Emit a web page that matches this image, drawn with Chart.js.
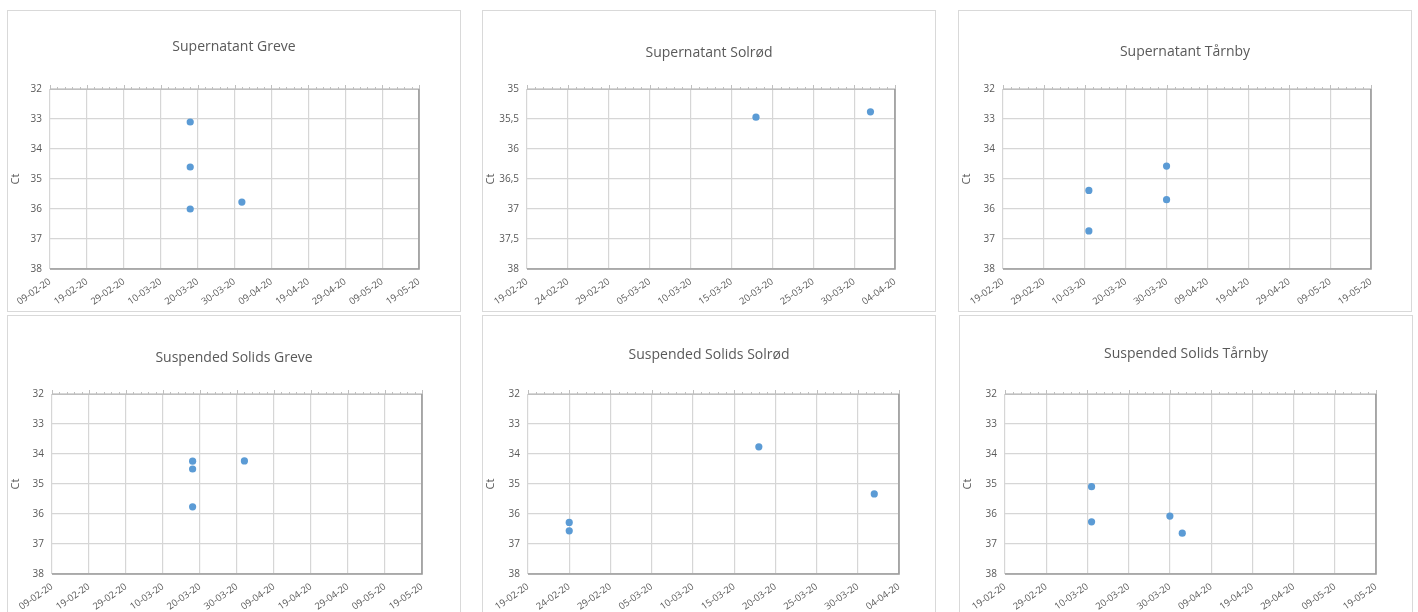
<!doctype html>
<html>
<head>
<meta charset="utf-8" />
<title>Ct – Supernatant / Suspended Solids</title>
<style>
  html, body { margin: 0; padding: 0; background: #fff; overflow: hidden; }
  body { width: 1418px; height: 612px; position: relative; font-family: 'Open Sans', sans-serif; }
  .panel { position: absolute; width: 452px; height: 300px; border: 1px solid #d9d9d9; background: #fff; }
  .panel canvas { display: block; }
</style>
<script src="https://cdn.jsdelivr.net/npm/chart.js"></script>
</head>
<body>
<div class="panel" style="left:7px;top:10px"><canvas id="c1" width="452" height="300"></canvas></div>
<div class="panel" style="left:482px;top:10px"><canvas id="c2" width="452" height="300"></canvas></div>
<div class="panel" style="left:958px;top:10px"><canvas id="c3" width="452" height="300"></canvas></div>
<div class="panel" style="left:7px;top:315px"><canvas id="c4" width="452" height="300"></canvas></div>
<div class="panel" style="left:482px;top:315px"><canvas id="c5" width="452" height="300"></canvas></div>
<div class="panel" style="left:959px;top:315px"><canvas id="c6" width="452" height="300"></canvas></div>
<script>
// x tick labels (dd-mm-yy)
const greveTicks = ['09-02-20', '19-02-20', '29-02-20', '10-03-20', '20-03-20', '30-03-20', '09-04-20', '19-04-20', '29-04-20', '09-05-20', '19-05-20'];
const solrodTicks = ['19-02-20', '24-02-20', '29-02-20', '05-03-20', '10-03-20', '15-03-20', '20-03-20', '25-03-20', '30-03-20', '04-04-20'];
const tarnbyTicks = ['19-02-20', '29-02-20', '10-03-20', '20-03-20', '30-03-20', '09-04-20', '19-04-20', '29-04-20', '09-05-20', '19-05-20'];

// y tick values (Ct, reversed axis)
const ctTicks = [32, 33, 34, 35, 36, 37, 38];
const ctTicksFine = [35, 35.5, 36, 36.5, 37, 37.5, 38];

// series
const supGreveDates = ['18-03-20', '18-03-20', '18-03-20', '01-04-20'];
const supGreveCt = [33.1, 34.6, 36.0, 35.77];
const supSolrodDates = ['18-03-20', '01-04-20'];
const supSolrodCt = [35.47, 35.38];
const supTarnbyDates = ['11-03-20', '11-03-20', '30-03-20', '30-03-20'];
const supTarnbyCt = [35.38, 36.73, 34.57, 35.69];
const ssGreveDates = ['18-03-20', '18-03-20', '18-03-20', '01-04-20'];
const ssGreveCt = [34.24, 34.5, 35.76, 34.23];
const ssSolrodDates = ['24-02-20', '24-02-20', '18-03-20', '01-04-20'];
const ssSolrodCt = [36.28, 36.56, 33.76, 35.33];
const ssTarnbyDates = ['11-03-20', '11-03-20', '30-03-20', '02-04-20'];
const ssTarnbyCt = [35.09, 36.26, 36.07, 36.64];

const panels = [
  { id: 'c1', title: 'Supernatant Greve', xTicks: greveTicks, yTicks: ctTicks, dates: supGreveDates, ct: supGreveCt, titleY: 36, plotL: 42, plotR: 411 },
  { id: 'c2', title: 'Supernatant Solrød', xTicks: solrodTicks, yTicks: ctTicksFine, dates: supSolrodDates, ct: supSolrodCt, titleY: 42, plotL: 44, plotR: 412 },
  { id: 'c3', title: 'Supernatant Tårnby', xTicks: tarnbyTicks, yTicks: ctTicks, dates: supTarnbyDates, ct: supTarnbyCt, titleY: 41, plotL: 44, plotR: 412 },
  { id: 'c4', title: 'Suspended Solids Greve', xTicks: greveTicks, yTicks: ctTicks, dates: ssGreveDates, ct: ssGreveCt, titleY: 42, plotL: 44, plotR: 414 },
  { id: 'c5', title: 'Suspended Solids Solrød', xTicks: solrodTicks, yTicks: ctTicks, dates: ssSolrodDates, ct: ssSolrodCt, titleY: 39, plotL: 45, plotR: 416 },
  { id: 'c6', title: 'Suspended Solids Tårnby', xTicks: tarnbyTicks, yTicks: ctTicks, dates: ssTarnbyDates, ct: ssTarnbyCt, titleY: 38, plotL: 45, plotR: 416 },
];

const PLOT_TOP = 78;
const PLOT_BOTTOM = 258;
const W = 452, H = 300;
const TEXT = '#595959';
const GRID = '#d6d6d6';

function toDay(s) {
  const [d, m, y] = s.split('-').map(Number);
  return Date.UTC(2000 + y, m - 1, d) / 86400000;
}

// Excel-like frame: top axis with minor ticks, darker right/bottom edge
const excelFrame = {
  id: 'excelFrame',
  beforeDatasetsDraw(chart) {
    const { ctx, chartArea: a, scales: { x } } = chart;
    const major = x.ticks.map(t => t.value);
    ctx.save();
    ctx.strokeStyle = '#bfbfbf';
    ctx.lineWidth = 1;
    ctx.beginPath();
    ctx.moveTo(a.left, a.top + 0.5);
    ctx.lineTo(a.right, a.top + 0.5);
    for (let i = 0; i < major.length; i++) {
      const px = Math.round(x.getPixelForValue(major[i])) + 0.5;
      ctx.moveTo(px, a.top); ctx.lineTo(px, a.top - 4);
      if (i < major.length - 1) {
        const step = (major[i + 1] - major[i]) / 5;
        for (let k = 1; k < 5; k++) {
          const mx = Math.round(x.getPixelForValue(major[i] + k * step)) + 0.5;
          ctx.moveTo(mx, a.top); ctx.lineTo(mx, a.top - 2);
        }
      }
    }
    ctx.stroke();
    ctx.strokeStyle = '#9a9a9a';
    ctx.lineWidth = 1.6;
    ctx.beginPath();
    ctx.moveTo(a.right, a.top);
    ctx.lineTo(a.right, a.bottom);
    ctx.lineTo(a.left, a.bottom);
    ctx.stroke();
    ctx.restore();
  }
};

for (const p of panels) {
  const xDays = p.xTicks.map(toDay);
  const points = p.dates.map((d, i) => ({ x: toDay(d), y: p.ct[i] }));
  new Chart(document.getElementById(p.id), {
    type: 'scatter',
    data: {
      datasets: [{
        data: points,
        backgroundColor: '#5b9bd5',
        borderColor: '#5b9bd5',
        pointRadius: 3.6,
        pointHoverRadius: 3.6,
        borderWidth: 0,
      }]
    },
    options: {
      responsive: false,
      animation: false,
      layout: { padding: 0 },
      plugins: {
        legend: { display: false },
        tooltip: { enabled: false },
        title: {
          display: true,
          text: p.title,
          color: TEXT,
          font: { family: 'Open Sans', size: 14, weight: 'normal', lineHeight: 1.2 },
          padding: { top: p.titleY - 8.4, bottom: PLOT_TOP - p.titleY - 8.4 },
        },
      },
      scales: {
        x: {
          type: 'linear',
          min: xDays[0],
          max: xDays[xDays.length - 1],
          afterBuildTicks: s => { s.ticks = xDays.map(v => ({ value: v })); },
          afterFit: s => { s.height = H - PLOT_BOTTOM; s.paddingLeft = 0; s.paddingRight = 0; },
          grid: { color: GRID, lineWidth: 1.2, drawTicks: false },
          border: { display: false },
          ticks: {
            autoSkip: false,
            maxRotation: 35,
            minRotation: 35,
            padding: 7,
            color: TEXT,
            font: { family: 'Open Sans', size: 9.5 },
            callback: (v, i) => p.xTicks[i],
          },
        },
        y: {
          type: 'linear',
          reverse: true,
          min: p.yTicks[0],
          max: p.yTicks[p.yTicks.length - 1],
          afterBuildTicks: s => { s.ticks = p.yTicks.map(v => ({ value: v })); },
          afterFit: s => { s.width = p.plotL; },
          grid: { color: GRID, lineWidth: 1.2, drawTicks: false },
          border: { display: false },
          title: {
            display: true,
            text: 'Ct',
            color: TEXT,
            font: { family: 'Open Sans', size: 11 },
            padding: { top: 1, bottom: 0 },
          },
          ticks: {
            padding: 8,
            color: TEXT,
            font: { family: 'Open Sans', size: 10 },
            callback: v => String(v).replace('.', ','),
          },
        },
        // empty right-hand box so the plot ends where Excel's does while the title stays centred on the panel
        spacer: {
          type: 'linear',
          position: 'right',
          grid: { display: false },
          border: { display: false },
          ticks: { display: false },
          afterFit: s => { s.width = W - p.plotR; },
        },
      },
    },
    plugins: [excelFrame],
  });
}
</script>
</body>
</html>
